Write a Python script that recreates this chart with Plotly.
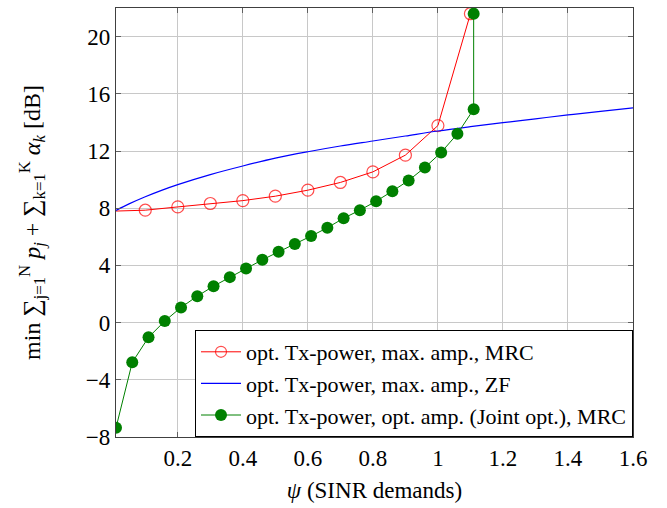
import plotly.graph_objects as go

# ---- data ----
psi_red = [0.01, 0.1, 0.2, 0.3, 0.4, 0.5, 0.6, 0.7, 0.8, 0.9, 1.0, 1.1]
val_red = [7.80, 7.86, 8.09, 8.33, 8.53, 8.84, 9.26, 9.80, 10.54, 11.71, 13.78, 21.6]

psi_blue = [0.01, 0.05, 0.1, 0.15, 0.2, 0.3, 0.4, 0.5, 0.6, 0.7, 0.8, 0.9, 1.0,
            1.1, 1.2, 1.3, 1.4, 1.5, 1.6]
val_blue = [7.85, 8.3, 8.8, 9.25, 9.65, 10.35, 10.95, 11.5, 11.95, 12.35, 12.7,
            13.05, 13.4, 13.7, 13.98, 14.25, 14.52, 14.77, 15.02]

psi_green = [0.01, 0.06, 0.11, 0.16, 0.21, 0.26, 0.31, 0.36, 0.41, 0.46, 0.51,
             0.56, 0.61, 0.66, 0.71, 0.76, 0.81, 0.86, 0.91, 0.96, 1.01, 1.06,
             1.11, 1.11]
val_green = [-7.35, -2.78, -1.03, 0.11, 1.06, 1.85, 2.55, 3.18, 3.79, 4.39, 4.95,
             5.49, 6.05, 6.63, 7.30, 7.86, 8.49, 9.19, 9.94, 10.85, 11.90, 13.20,
             14.92, 21.6]

x_ticks = [0.2, 0.4, 0.6, 0.8, 1.0, 1.2, 1.4, 1.6]
x_tick_labels = ["0.2", "0.4", "0.6", "0.8", "1", "1.2", "1.4", "1.6"]
y_ticks = [-8, -4, 0, 4, 8, 12, 16, 20]

names = ["opt. Tx-power, max. amp., MRC",
         "opt. Tx-power, max. amp., ZF",
         "opt. Tx-power, opt. amp. (Joint opt.), MRC"]

FONT = "Liberation Serif, Times New Roman, serif"

fig = go.Figure()
fig.add_trace(go.Scatter(
    x=psi_red, y=val_red, name=names[0], mode="lines+markers",
    line=dict(color="#ff0000", width=1),
    marker=dict(symbol="circle-open", color="#ff0000",
                size=[0] + [12] * (len(psi_red) - 1), line=dict(width=1.2)),
))
fig.add_trace(go.Scatter(
    x=psi_blue, y=val_blue, name=names[1], mode="lines",
    line=dict(color="#0000ff", width=1.2, shape="spline"),
))
fig.add_trace(go.Scatter(
    x=psi_green, y=val_green, name=names[2], mode="lines+markers",
    line=dict(color="#008000", width=1),
    marker=dict(symbol="circle", color="#008000", size=12),
))

axis_common = dict(
    showgrid=True, gridcolor="#c8c8c8", gridwidth=1,
    showline=True, linecolor="#404040", linewidth=1.2, mirror="ticks",
    ticks="inside", ticklen=5, tickcolor="#606060",
    zeroline=False,
    tickfont=dict(family=FONT, size=23, color="black"),
)

fig.update_xaxes(
    range=[0.01, 1.6], tickvals=x_ticks, ticktext=x_tick_labels,
    title=dict(text="<i>ψ</i> (SINR demands)", font=dict(family=FONT, size=23, color="black"),
               standoff=12),
    **axis_common,
)
fig.update_yaxes(
    range=[-8, 22], tickvals=y_ticks,
    title=dict(text="min ∑<sub>j=1</sub><sup>N</sup> <i>p<sub>j</sub></i> + ∑<sub>k=1</sub><sup>K</sup> <i>α<sub>k</sub></i> [dB]",
               font=dict(family=FONT, size=24, color="black"), standoff=38),
    **axis_common,
)

fig.update_layout(
    width=667, height=508,
    margin=dict(l=116, r=34, t=8, b=71, autoexpand=False),
    paper_bgcolor="white", plot_bgcolor="white",
    font=dict(family=FONT, color="black"),
    showlegend=True,
    hovermode=False,
    legend=dict(
        x=1, y=0, xanchor="right", yanchor="bottom",
        bgcolor="white", bordercolor="black", borderwidth=1,
        font=dict(family=FONT, size=22, color="black"),
        itemwidth=40, tracegroupgap=0,
    ),
)

fig.write_html(
    "out.html",
    config={"displayModeBar": False, "staticPlot": True},
    post_script="document.body.style.margin='0';document.body.style.overflow='hidden';",
)
